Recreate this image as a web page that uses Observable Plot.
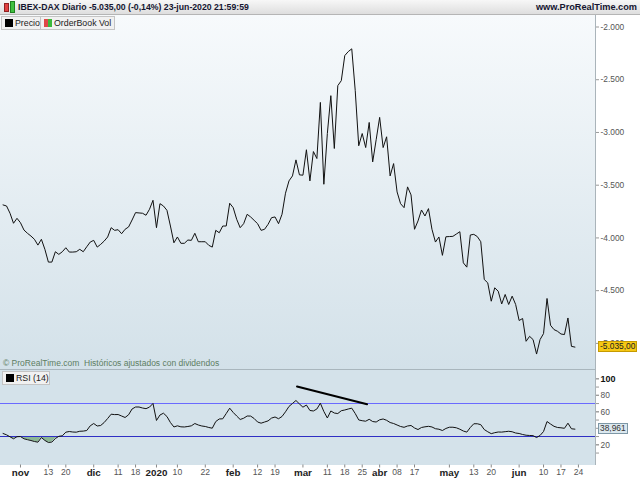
<!DOCTYPE html>
<html><head><meta charset="utf-8">
<script src="https://cdn.jsdelivr.net/npm/d3@7"></script>
<script src="https://cdn.jsdelivr.net/npm/@observablehq/plot@0.6"></script>
<style>
body{margin:0;background:#fff;font-family:"Liberation Sans",Arial,sans-serif;}
#root{position:relative;width:640px;height:480px;overflow:hidden;background:#fff;}
.abs{position:absolute;}
#header{left:0;top:0;width:640px;height:15px;background:linear-gradient(#f7f7f7,#dedede);border-bottom:1px solid #b5b5b5;box-sizing:border-box;}
#htitle{left:18px;top:1px;font-weight:bold;font-size:8.7px;color:#151530;white-space:nowrap;line-height:13px;}
#hsite{right:3px;top:1px;font-weight:bold;font-size:9.2px;color:#151530;white-space:nowrap;line-height:13px;}
#mainbg{left:0;top:15px;width:595px;height:354px;background:linear-gradient(#f7fafc,#d3e1e9);}
#rsibg{left:0;top:369px;width:595px;height:96px;background:#d4e2ea;border-top:1px solid #a9b6bd;box-sizing:border-box;}
.leg{height:14px;background:#f1f1f1;border:1px solid #c4c4c4;box-sizing:border-box;font-size:8.8px;color:#222;line-height:12px;white-space:nowrap;}
.sq{display:inline-block;width:8px;height:8px;vertical-align:-1px;margin:0 2px 0 3px;}
#note{left:3px;top:358px;font-size:8.5px;color:#5d7d62;white-space:nowrap;}
.tag{font-size:8.4px;line-height:9px;height:11px;box-sizing:border-box;padding:0 1px;white-space:nowrap;}
svg{position:absolute;left:0;}
</style></head><body>
<div id="root">
<div id="mainbg" class="abs"></div>
<div id="rsibg" class="abs"></div>
<div id="header" class="abs"></div>
<div class="abs" style="left:4px;top:3px;width:3px;height:7px;background:#e04040;border:1px solid #902020;"></div>
<div class="abs" style="left:10px;top:1px;width:3px;height:10px;background:#40c040;border:1px solid #208020;"></div>
<div id="htitle" class="abs">IBEX-DAX Diario -5.035,00 (-0,14%) 23-jun-2020 21:59:59</div>
<div id="hsite" class="abs">www.ProRealTime.com</div>
<div class="abs leg" style="left:1px;top:16px;width:40px;"><span class="sq" style="background:#000"></span>Precio</div>
<div class="abs leg" style="left:40px;top:16px;width:75px;"><span class="sq" style="background:linear-gradient(90deg,#e04848 50%,#3cb83c 50%)"></span>OrderBook Vol</div>
<div id="note" class="abs">© ProRealTime.com&nbsp; Históricos ajustados con dividendos</div>
<div class="abs leg" style="left:2px;top:371px;width:48px;"><span class="sq" style="background:#000"></span>RSI (14)</div>
</div>
<script>
// ---- data (one value per trading day, 25-oct-2019 .. 23-jun-2020) ----
const price = [-3687,-3697,-3766,-3861,-3814,-3856,-3925,-3956,-3982,-4013,
-4068,-4013,-4108,-4229,-4229,-4131,-4156,-4131,-4093,-4134,
-4134,-4131,-4108,-4131,-4084,-4039,-4023,-4087,-4061,-4030,
-3991,-3903,-3928,-3922,-3960,-3918,-3896,-3830,-3760,-3763,
-3766,-3785,-3728,-3643,-3903,-3675,-3697,-3738,-3887,-4046,
-3991,-4051,-4051,-4020,-4023,-3956,-4036,-4036,-4036,-4070,
-4087,-3928,-3951,-3887,-3887,-3671,-3713,-3823,-3903,-3865,
-3776,-3801,-3833,-3865,-3928,-3918,-3871,-3808,-3801,-3865,
-3776,-3576,-3459,-3412,-3260,-3402,-3405,-3164,-3459,-3181,
-3247,-2715,-3491,-3010,-2651,-3152,-2556,-2509,-2271,-2233,
-2207,-2604,-3126,-3010,-3143,-2905,-3279,-3069,-2857,-3143,
-3041,-3412,-3295,-3564,-3675,-3713,-3516,-3592,-3918,-3839,
-3735,-3792,-3722,-3918,-4039,-3991,-4165,-3989,-3987,-3985,
-3963,-3941,-4236,-4277,-3972,-3966,-3987,-4036,-4394,-4426,
-4600,-4473,-4505,-4626,-4536,-4631,-4552,-4631,-4783,-4764,
-4980,-4933,-4964,-5101,-4964,-4907,-4574,-4828,-4869,-4885,
-4911,-4916,-4759,-5028,-5035];
const rsi = [33.7,32.1,29.7,27.3,29.8,30,27.3,26.2,25.2,24,
23.2,28.8,25.3,22.8,23.3,27.6,30.3,30.9,35.3,36.1,
35.5,35.3,36.4,36.6,37.3,43,45.8,42.8,43.4,47,
51.9,57.1,56.6,56.7,54.9,53.1,56.4,63.4,65.8,65.8,
64.6,63.8,65.7,70.1,49.5,56.1,58.3,54.3,47,41.6,
43,41.8,41.6,42.2,43,45.8,44,42.8,42.2,41,
40.1,48.2,51.3,51.5,57.9,64.4,59.2,54.9,50.7,52.2,
54.9,54.8,51.9,47.6,46.2,47.6,49,52.4,53.7,51.6,
54.3,60,66.5,70.1,73.7,69.5,65.6,68.2,61.6,61,
63.4,70.4,60.4,52.5,61,58.5,57.9,61.3,62.2,63.4,
64.4,57.9,50.1,49.2,48.6,50.9,48.2,47.6,50.3,51.3,
49.7,47,45.8,44,42.2,41.2,42.8,43.4,40.4,38.5,
41,41.8,42.4,41.6,39.5,38.9,37.3,39.8,41.3,41.3,
40.6,38.9,36.7,35.4,41,45.5,45.5,44.4,38.5,35.8,
33.5,34.7,35.5,35.4,35.9,36.4,35.8,34.3,33.7,32.5,
31.6,31.3,31.1,28.8,31.3,36.1,48.2,45.2,42.4,41,
40.6,40,46.2,39.4,38.961];
// x-axis tick labels (trading-day index -> label)
const tickIdx = [5,13,18,26,33,38,44,50,58,66,73,78,86,93,98,103,108,113,118,128,135,140,148,155,160,165];
const tickLabels = ["nov","13","20","dic","11","18","2020","10","22","feb","12","19","mar","11","18","25","abr","08","17","may","13","20","jun","10","17","24"];
const boldLabels = ["nov","dic","2020","feb","mar","abr","may","jun"];
const priceTicks = [-2000,-2500,-3000,-3500,-4000,-4500,-5000];
const rsiTicks = [10,20,30,40,50,60,70,80,90,100];
const rsiLabelTicks = [20,60,80];   // 40 is hidden behind the value tag
const rsiLevels = [70, 30];
const rsiLevelColors = ["#6a6aff", "#2f2fc4"];
const divIdx = [84.3, 104.4];   // divergence line endpoints (day index)
const divRsi = [90.7, 69.2];
const lastPrice = -5035, lastPriceLabel = "-5.035,00";
const lastRsi = 38.961, lastRsiLabel = "38,961";

// ---- build ----
const rows = price.map((p, i) => ({i, p, r: rsi[i]}));
const div = divIdx.map((d, k) => ({i: d, r: divRsi[k]}));
const levels = rsiLevels.map((v, k) => ({v, c: rsiLevelColors[k]}));
const xDomain = [-0.73, 169.9];
const tickMap = new Map(tickIdx.map((t, k) => [t, tickLabels[k]]));
const boldIdx = tickIdx.filter((t, k) => boldLabels.includes(tickLabels[k]));
const normIdx = tickIdx.filter((t, k) => !boldLabels.includes(tickLabels[k]));
const fmtDE = d => d.toLocaleString("de-DE");
const FONT = "Liberation Sans, Arial, sans-serif";

const main = Plot.plot({
  width: 640, height: 354, marginLeft: 0, marginRight: 45, marginTop: 0, marginBottom: 0,
  style: {background: "transparent", fontFamily: FONT, overflow: "visible"},
  x: {domain: xDomain, axis: null},
  y: {domain: [-5000, -2000], range: [327.9, 11.5], axis: null},
  marks: [
    Plot.ruleX([xDomain[1]], {stroke: "#aab4ba", shapeRendering: "crispEdges"}),
    Plot.line(rows, {x: "i", y: "p", stroke: "#111", strokeWidth: 1}),
    Plot.axisY({anchor: "right", label: null, ticks: priceTicks, tickSize: 3, tickPadding: 2, tickFormat: fmtDE,
      fontSize: 8.4, fill: "#555", stroke: "#999"})
  ]
});
main.style.top = "15px";
document.getElementById("root").appendChild(main);

const rsiChart = Plot.plot({
  width: 640, height: 111, marginLeft: 0, marginRight: 45, marginTop: 0, marginBottom: 15.5,
  style: {background: "transparent", fontFamily: FONT, overflow: "visible"},
  x: {domain: xDomain, axis: null},
  y: {domain: [0, 100], range: [91.8, 9.3], axis: null},
  marks: [
    Plot.areaY(rows, {x: "i", y1: rsiLevels[1], y2: d => Math.min(d.r, rsiLevels[1]), fill: "#8cb795"}),
    Plot.ruleY(levels, {y: "v", stroke: d => d.c, strokeWidth: 1, shapeRendering: "crispEdges"}),
    Plot.ruleX([xDomain[1]], {stroke: "#aab4ba", shapeRendering: "crispEdges"}),
    Plot.line(rows, {x: "i", y: "r", stroke: "#111", strokeWidth: 1}),
    Plot.line(div, {x: "i", y: "r", stroke: "#000", strokeWidth: 2}),
    Plot.axisY({anchor: "right", label: null, ticks: rsiTicks, tickSize: 3, text: null, stroke: "#999"}),
    Plot.axisY({anchor: "right", label: null, ticks: rsiLabelTicks, tickSize: 3, tickPadding: 2, fontSize: 8.4, fill: "#555", stroke: "#999"}),
    Plot.axisY({anchor: "right", label: null, ticks: [100], tickSize: 3, tickPadding: 2, fontSize: 9, fontWeight: "bold", fill: "#111", stroke: "#999"}),
    Plot.axisX({label: null, ticks: normIdx, tickSize: 3, tickPadding: 1, tickFormat: d => tickMap.get(d), fontSize: 8.6, fill: "#555", stroke: "#888"}),
    Plot.axisX({label: null, ticks: boldIdx, tickSize: 3, tickPadding: 1, tickFormat: d => tickMap.get(d), fontSize: 9.8, fontWeight: "bold", fill: "#222", stroke: "#888"})
  ]
});
rsiChart.style.top = "369px";
document.getElementById("root").appendChild(rsiChart);

// value tags positioned with the charts' own scales
const root = document.getElementById("root");
const yP = main.scale("y").apply(lastPrice) + 15;
const t1 = document.createElement("div");
t1.className = "abs tag";
t1.style.cssText = `left:598px;top:${yP - 5.5}px;background:#f6c814;border:1px solid #c69a00;color:#222;`;
t1.textContent = lastPriceLabel;
root.appendChild(t1);
const yR = rsiChart.scale("y").apply(lastRsi) + 369;
const t2 = document.createElement("div");
t2.className = "abs tag";
t2.style.cssText = `left:598px;top:${yR - 5.5}px;background:#dbe8ef;border:1px solid #7d97a6;color:#333;`;
t2.textContent = lastRsiLabel;
root.appendChild(t2);
</script></body></html>
